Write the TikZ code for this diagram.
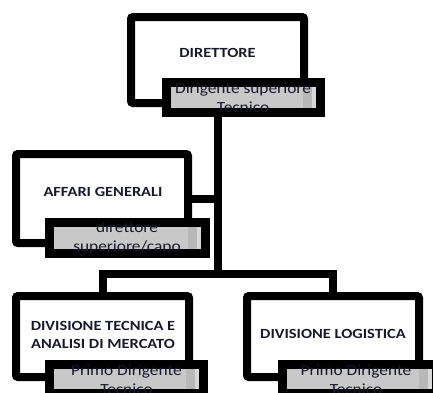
\documentclass[tikz,border=0pt]{standalone}
\usepackage{fontspec}
\newfontfamily\orgfont[FakeStretch=1.17]{Carlito}
\newfontfamily\subfont[FakeStretch=1.12]{Carlito}
\definecolor{subgray}{RGB}{200,200,200}
\definecolor{subdark}{RGB}{184,184,184}
\definecolor{sublight}{RGB}{216,216,216}
\definecolor{textdark}{RGB}{25,25,45}
\usetikzlibrary{positioning}

\begin{document}
\begin{tikzpicture}[x=1pt,y=-1pt,
  orgbox/.style={draw,line width=8pt,fill=white,rounded corners=2pt,inner sep=0pt},
  subbox/.style={draw,line width=9pt,fill=subgray,inner sep=0pt,minimum width=154pt,minimum height=30pt,
    path picture={
      \fill[subdark] ([xshift=-18pt]path picture bounding box.north east) rectangle ([xshift=-8.5pt]path picture bounding box.south east);
      \fill[sublight] ([xshift=-8.5pt]path picture bounding box.north east) rectangle (path picture bounding box.south east);}},
  orglabel/.style={font=\orgfont\fontsize{14}{18}\selectfont\bfseries,text=textdark,align=center,inner sep=0pt},
  sublabel/.style={font=\subfont\fontsize{15.5}{18.5}\selectfont,text=textdark,align=center,inner sep=0pt},
  orglink/.style={line width=8pt}
]
  \useasboundingbox (0,0) rectangle (433,392);
  % Director
  \node[orgbox,minimum width=173pt,minimum height=86pt] (dir) at (217.5,60) {};
  \node[orglabel] (dirlbl) at (217.5,53) {DIRETTORE};
  \node[subbox] (dirsub) at (243.5,97.5) {};
  \begin{scope}
    \clip ([shift={(4.5pt,-4.5pt)}]dirsub.north west) rectangle ([shift={(-4.5pt,4.5pt)}]dirsub.south east);
    \node[sublabel] (dirsubtxt) at (243,97.5) {Dirigente superiore\\Tecnico};
  \end{scope}
  % Staff office
  \node[orgbox,minimum width=172pt,minimum height=89pt] (aff) at (102,198.5) {};
  \node[orglabel] (afflbl) at (103,192) {AFFARI GENERALI};
  \node[subbox,minimum width=156pt,minimum height=31pt] (affsub) at (127.5,238) {};
  \begin{scope}
    \clip ([shift={(4.5pt,-4.5pt)}]affsub.north west) rectangle ([shift={(-4.5pt,4.5pt)}]affsub.south east);
    \node[sublabel] (affsubtxt) at (127,238) {direttore\\superiore/capo};
  \end{scope}
  % Divisions
  \node[orgbox,minimum width=173pt,minimum height=81pt] (divtec) at (102.5,336.5) {};
  \node[orglabel] (divteclbl) at (103,335) {DIVISIONE TECNICA E\\ANALISI DI MERCATO};
  \node[subbox,minimum height=29pt] (divtecsub) at (126.5,379) {};
  \begin{scope}
    \clip ([shift={(4.5pt,-4.5pt)}]divtecsub.north west) rectangle ([shift={(-4.5pt,4.5pt)}]divtecsub.south east);
    \node[sublabel] (divtecsubtxt) at (126.5,379.5) {Primo Dirigente\\Tecnico};
  \end{scope}
  \node[orgbox,minimum width=172pt,minimum height=81pt] (divlog) at (333,336.5) {};
  \node[orglabel] (divloglbl) at (333,334) {DIVISIONE LOGISTICA};
  \node[subbox,minimum height=29pt] (divlogsub) at (359.5,379) {};
  \begin{scope}
    \clip ([shift={(4.5pt,-4.5pt)}]divlogsub.north west) rectangle ([shift={(-4.5pt,4.5pt)}]divlogsub.south east);
    \node[sublabel] (divlogsubtxt) at (356,379.5) {Primo Dirigente\\Tecnico};
  \end{scope}
  % Links
  \coordinate (bus) at (217.5,274);
  \draw[orglink] (dir.south |- dirsub.south) -- (bus);
  \draw[orglink] (aff.east) -- (aff.east -| bus);
  \draw[orglink] (divtec.north) |- (bus) -| (divlog.north);
\end{tikzpicture}
\end{document}
